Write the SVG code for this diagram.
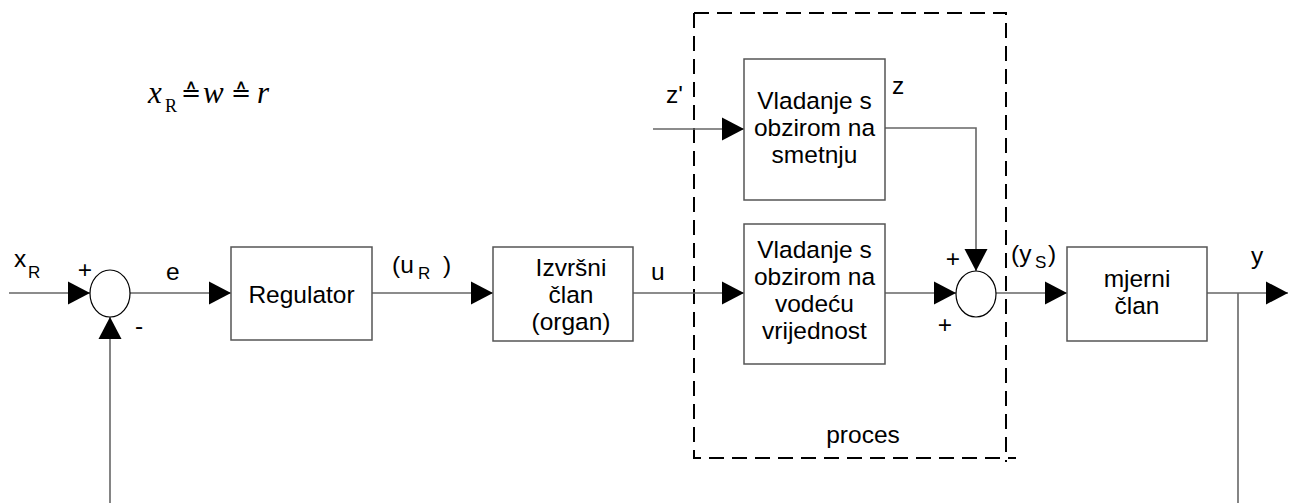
<svg xmlns="http://www.w3.org/2000/svg" width="1292" height="503" viewBox="0 0 1292 503">
<style>
.box{fill:#fff;stroke:#555;stroke-width:1.5}
.sum{fill:#fff;stroke:#000;stroke-width:1.2}
.ln{fill:none;stroke:#666;stroke-width:1.6}
.t{font-family:"Liberation Sans",Arial,sans-serif;font-size:24.5px;fill:#000}
.c{text-anchor:middle}
.sub{font-family:"Liberation Sans",Arial,sans-serif;font-size:17px;fill:#000}
.dash{fill:none;stroke:#000;stroke-width:2;stroke-dasharray:15 8}
.m{font-family:"Liberation Serif","DejaVu Serif",serif;font-size:31px;fill:#000}
.eq{font-family:"DejaVu Serif","Liberation Serif",serif;font-size:24px;fill:#000}
.i{font-style:italic}
</style>
<defs>
<marker id="ah" markerWidth="22" markerHeight="24" refX="22" refY="12" orient="auto" markerUnits="userSpaceOnUse">
<path d="M0,0.5 L22,12 L0,23.5 z" fill="#000"/>
</marker>
</defs>
<rect width="1292" height="503" fill="#fff"/>

<g id="process-boundary">
<path class="dash" d="M694,13 H1006 V462"/>
<path class="dash" d="M694,13 V458 H1016"/>
<text class="t c" x="863" y="443">proces</text>
</g>

<g id="connectors">
<path class="ln" d="M9,293 H90" marker-end="url(#ah)"/>
<path class="ln" d="M130,293 H231" marker-end="url(#ah)"/>
<path class="ln" d="M372,293 H493" marker-end="url(#ah)"/>
<path class="ln" d="M633,293 H744" marker-end="url(#ah)"/>
<path class="ln" d="M653,129 H744" marker-end="url(#ah)"/>
<path class="ln" d="M885,128 H976 V271" marker-end="url(#ah)"/>
<path class="ln" d="M885,293 H956" marker-end="url(#ah)"/>
<path class="ln" d="M996,293 H1067" marker-end="url(#ah)"/>
<path class="ln" d="M1207,293 H1288" marker-end="url(#ah)"/>
<path class="ln" d="M1238,293 V503"/>
<path class="ln" d="M110,503 V317" marker-end="url(#ah)"/>
</g>

<g id="formula">
<text class="m i" x="148" y="103">x</text>
<text x="165" y="112" font-family="'Liberation Serif','DejaVu Serif',serif" font-size="18" fill="#000">R</text>
<text class="eq" x="181" y="101">≙</text>
<text class="m i" x="203" y="103">w</text>
<text class="eq" x="231" y="101">≙</text>
<text class="m i" x="257" y="103">r</text>
</g>

<g id="sum1">
<ellipse class="sum" cx="110" cy="293.5" rx="20" ry="23.5"/>
<text class="t c" x="85" y="278">+</text>
<text class="t c" x="139" y="334">-</text>
</g>

<g id="regulator">
<rect class="box" x="231" y="247" width="141" height="93"/>
<text class="t c" x="301.5" y="303">Regulator</text>
</g>

<g id="izvrsni">
<rect class="box" x="493" y="247" width="140" height="94"/>
<text class="t c" x="571" y="276">Izvršni</text>
<text class="t c" x="571" y="303">član</text>
<text class="t c" x="571" y="330">(organ)</text>
</g>

<g id="smetnja">
<rect class="box" x="744" y="59" width="141" height="141"/>
<text class="t c" x="814.5" y="109">Vladanje s</text>
<text class="t c" x="814.5" y="136">obzirom na</text>
<text class="t c" x="814.5" y="163">smetnju</text>
</g>

<g id="vodeca">
<rect class="box" x="744" y="224" width="141" height="140"/>
<text class="t c" x="814.5" y="258">Vladanje s</text>
<text class="t c" x="814.5" y="285">obzirom na</text>
<text class="t c" x="814.5" y="312">vodeću</text>
<text class="t c" x="814.5" y="339">vrijednost</text>
</g>

<g id="sum2">
<ellipse class="sum" cx="976" cy="294" rx="20" ry="23"/>
<text class="t c" x="953" y="267">+</text>
<text class="t c" x="945" y="333">+</text>
</g>

<g id="mjerni">
<rect class="box" x="1067" y="247" width="140" height="94"/>
<text class="t c" x="1137" y="287">mjerni</text>
<text class="t c" x="1137" y="314">član</text>
</g>

<g id="labels">
<text class="t" x="14" y="267">x</text>
<text class="sub" x="28" y="278">R</text>
<text class="t" x="166" y="280">e</text>
<text class="t" x="392" y="273">(u</text>
<text class="sub" x="418" y="279">R</text>
<text class="t" x="443" y="273">)</text>
<text class="t" x="651" y="280">u</text>
<text class="t" x="666" y="103">z'</text>
<text class="t" x="892" y="94">z</text>
<text class="t" x="1011" y="262">(y</text>
<text class="sub" x="1035" y="268">S</text>
<text class="t" x="1048" y="262">)</text>
<text class="t c" x="1257" y="264">y</text>
</g>
</svg>
